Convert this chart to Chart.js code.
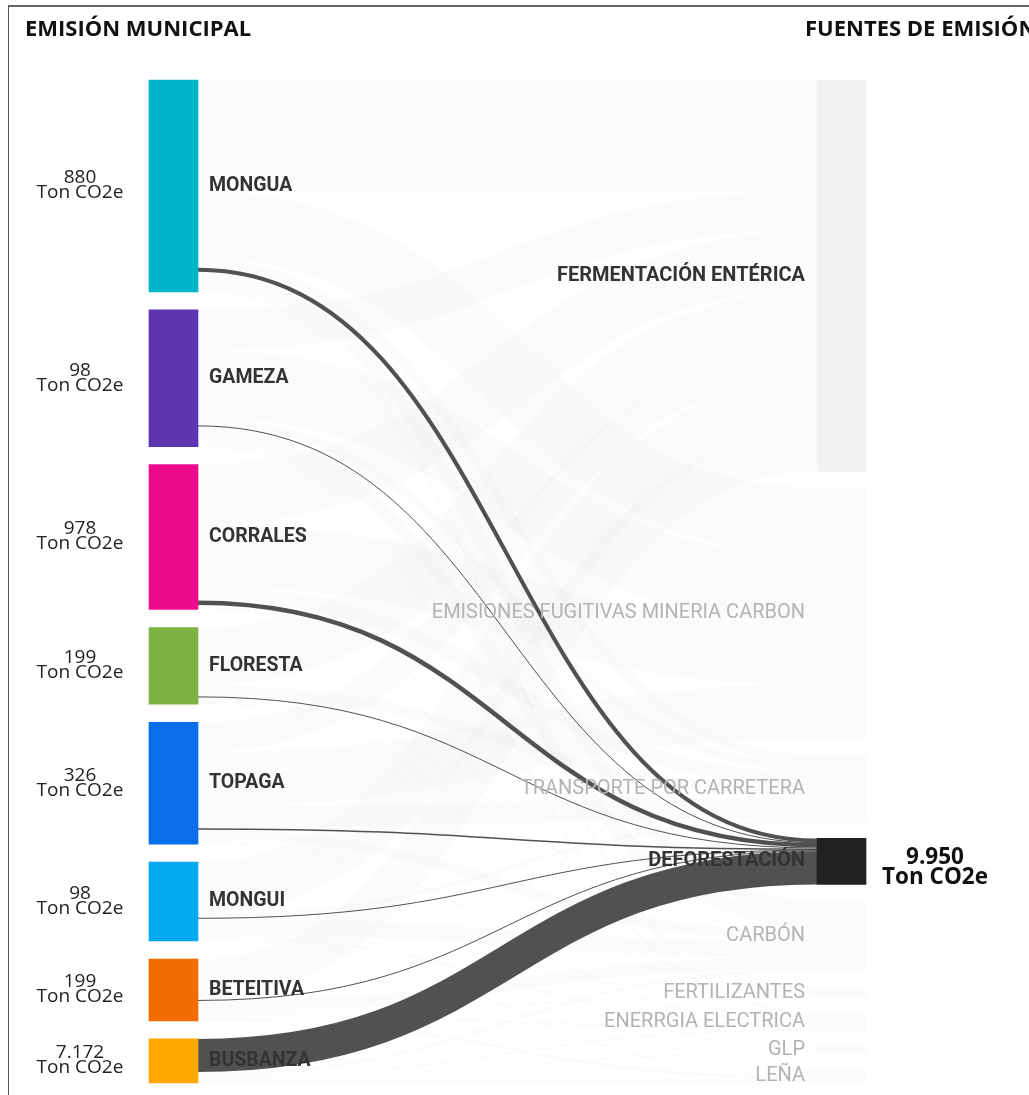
<!DOCTYPE html>
<html>
<head>
<meta charset="utf-8">
<script src="https://cdn.jsdelivr.net/npm/chart.js@4.4.1/dist/chart.umd.min.js"></script>
<style>
  body { margin: 0; background: #fff; }
  #marco { position: absolute; left: 8px; top: 5px; right: 0; bottom: 0; border-left: 1px solid #555; border-top: 2px solid #666; }
  canvas { position: absolute; left: 0; top: 0; }
</style>
</head>
<body>
<div id="marco"></div>
<canvas id="grafico" width="1029" height="1095"></canvas>
<script>
// municipios (columna izquierda)
const municipios = ['MONGUA', 'GAMEZA', 'CORRALES', 'FLORESTA', 'TOPAGA', 'MONGUI', 'BETEITIVA', 'BUSBANZA']
const coloresMunicipio = ['#00b4c9', '#5e35b1', '#ec0b8d', '#7cb342', '#0a6eea', '#05a9f2', '#f36c00', '#ffa900']

// fuentes de emisión (columna derecha)
const fuentes = ['FERMENTACIÓN ENTÉRICA', 'EMISIONES FUGITIVAS MINERIA CARBON', 'TRANSPORTE POR CARRETERA', 'DEFORESTACIÓN', 'CARBÓN', 'FERTILIZANTES', 'ENERRGIA ELECTRICA', 'GLP', 'LEÑA']
const fuenteResaltada = 'DEFORESTACIÓN'
const etiquetasNegrita = ['FERMENTACIÓN ENTÉRICA', 'DEFORESTACIÓN']

// Ton CO2e por municipio, una lista por fuente
const fermentacionEnterica = [24010, 8650, 12980, 12550, 6490, 11250, 8870, 0]
const emisionesFugitivas   = [14710, 14710, 13410, 0, 11680, 0, 0, 0]
const transporteCarretera  = [1950, 1730, 3030, 2380, 4760, 870, 0, 0]
const deforestacion        = [880, 98, 978, 199, 326, 98, 199, 7172]
const carbon               = [3030, 3030, 220, 430, 2160, 3460, 2600, 650]
const fertilizantes        = [430, 320, 220, 320, 110, 220, 320, 220]
const energiaElectrica     = [650, 540, 320, 320, 540, 540, 430, 430]
const glp                  = [110, 220, 110, 110, 220, 220, 220, 320]
const lena                 = [110, 320, 110, 320, 110, 430, 760, 760]

const flujos = [fermentacionEnterica, emisionesFugitivas, transporteCarretera, deforestacion, carbon, fertilizantes, energiaElectrica, glp, lena]

const ANCHO_NODO = 49
const SEPARACION = 18   // px entre nodos de la columna izquierda
const ALTO_AREA = 1003

function miles(n) {
    return String(n).replace(/\B(?=(\d{3})+(?!\d))/g, '.')
}

// totales por nodo
const totalMunicipio = municipios.map((m, i) => flujos.reduce((s, f) => s + f[i], 0))
const totalFuente = flujos.map(f => f.reduce((s, v) => s + v, 0))
const total = totalMunicipio.reduce((s, v) => s + v, 0)

// eje y en toneladas: la columna izquierda llena el alto con separaciones fijas
const yMax = total / (1 - (municipios.length - 1) * SEPARACION / ALTO_AREA)
const sepIzq = (yMax - total) / (municipios.length - 1)
const sepDer = (yMax - total) / (fuentes.length - 1)

let acum = 0
const nodosIzq = totalMunicipio.map(t => {
    const r = [acum, acum + t]
    acum += t + sepIzq
    return r
})
acum = 0
const nodosDer = totalFuente.map(t => {
    const r = [acum, acum + t]
    acum += t + sepDer
    return r
})

// enlaces: se apilan en orden de destino en el origen y en orden de origen en el destino
const enlaces = []
const salida = nodosIzq.map(n => n[0])
const llegada = nodosDer.map(n => n[0])
for (let i in municipios) {
    for (let j in fuentes) {
        const v = flujos[j][i]
        if (v <= 0) continue
        enlaces.push({ i: +i, j: +j, v: v, y0: salida[i] + v / 2, y1: 0 })
        salida[i] += v
    }
}
for (let j in fuentes) {
    for (let e of enlaces) {
        if (e.j != j) continue
        e.y1 = llegada[j] + e.v / 2
        llegada[j] += e.v
    }
}

const coloresFuente = fuentes.map(f => f == fuenteResaltada ? '#222222' : (f == 'FERMENTACIÓN ENTÉRICA' ? '#f2f2f2' : '#fbfbfb'))

const pluginSankey = {
    id: 'sankey',
    beforeDatasetsDraw(chart) {
        const ctx = chart.ctx
        const xs = chart.scales.x, ys = chart.scales.y
        const x0 = xs.getPixelForValue(0) + ANCHO_NODO / 2
        const x1 = xs.getPixelForValue(1) - ANCHO_NODO / 2
        const xm = (x0 + x1) / 2
        const dibujar = (e, color, minimo) => {
            const w = Math.abs(ys.getPixelForValue(e.v) - ys.getPixelForValue(0))
            const a = ys.getPixelForValue(e.y0), b = ys.getPixelForValue(e.y1)
            ctx.beginPath()
            ctx.moveTo(x0, a)
            ctx.bezierCurveTo(xm, a, xm, b, x1, b)
            ctx.lineWidth = Math.max(w, minimo)
            ctx.strokeStyle = color
            ctx.stroke()
        }
        ctx.save()
        ctx.lineCap = 'butt'
        for (let e of enlaces) {
            if (fuentes[e.j] != fuenteResaltada) dibujar(e, 'rgba(0,0,0,0.017)', 0)
        }
        for (let e of enlaces) {
            if (fuentes[e.j] == fuenteResaltada) dibujar(e, 'rgba(66,66,66,0.92)', 1)
        }
        ctx.restore()
    },
    afterDatasetsDraw(chart) {
        const ctx = chart.ctx
        const xs = chart.scales.x, ys = chart.scales.y
        const xIzq = xs.getPixelForValue(0), xDer = xs.getPixelForValue(1)
        ctx.save()
        ctx.textBaseline = 'middle'

        // municipios: nombre a la derecha del nodo, valor resaltado a la izquierda
        nodosIzq.forEach((n, i) => {
            const yc = (ys.getPixelForValue(n[0]) + ys.getPixelForValue(n[1])) / 2
            ctx.font = 'bold 19.5px Roboto'
            ctx.fillStyle = '#333'
            ctx.textAlign = 'left'
            ctx.fillText(municipios[i], xIzq + ANCHO_NODO / 2 + 11, yc)
            ctx.font = '19px "Open Sans"'
            ctx.fillStyle = '#222'
            ctx.textAlign = 'center'
            ctx.fillText(miles(deforestacion[i]), 80, yc - 8)
            ctx.fillText('Ton CO2e', 80, yc + 7)
        })

        // fuentes: nombre a la izquierda del nodo
        nodosDer.forEach((n, j) => {
            const yc = (ys.getPixelForValue(n[0]) + ys.getPixelForValue(n[1])) / 2
            const negrita = etiquetasNegrita.includes(fuentes[j])
            ctx.font = (negrita ? 'bold ' : '') + '20px Roboto'
            ctx.fillStyle = negrita ? '#333' : '#b3b3b3'
            ctx.textAlign = 'right'
            ctx.fillText(fuentes[j], xDer - ANCHO_NODO / 2 - 12, yc)
            if (fuentes[j] == fuenteResaltada) {
                ctx.font = 'bold 22.5px "Open Sans"'
                ctx.fillStyle = '#111'
                ctx.textAlign = 'center'
                ctx.fillText(miles(totalFuente[j]), 935, yc - 4)
                ctx.fillText('Ton CO2e', 935, yc + 16)
            }
        })

        // encabezados de columna
        ctx.font = 'bold 22px "Open Sans"'
        ctx.fillStyle = '#111'
        ctx.textAlign = 'left'
        ctx.textBaseline = 'alphabetic'
        ctx.fillText('EMISIÓN MUNICIPAL', 25, 36)
        ctx.fillText('FUENTES DE EMISIÓN', 805, 36)
        ctx.restore()
    }
}

new Chart(document.getElementById('grafico'), {
    type: 'bar',
    data: {
        datasets: [
            {
                data: nodosIzq.map(n => ({ x: 0, y: n })),
                backgroundColor: coloresMunicipio,
                barThickness: ANCHO_NODO,
                grouped: false,
                borderWidth: 0,
                clip: false
            },
            {
                data: nodosDer.map(n => ({ x: 1, y: n })),
                backgroundColor: coloresFuente,
                barThickness: ANCHO_NODO,
                grouped: false,
                borderWidth: 0,
                clip: false
            }
        ]
    },
    options: {
        responsive: false,
        animation: false,
        layout: { padding: { left: 173.5, right: 187.5, top: 80, bottom: 12 } },
        scales: {
            x: { type: 'linear', min: 0, max: 1, offset: false, display: false },
            y: { type: 'linear', min: 0, max: yMax, reverse: true, display: false }
        },
        plugins: { legend: { display: false }, tooltip: { enabled: false } }
    },
    plugins: [pluginSankey]
})
</script>
</body>
</html>
